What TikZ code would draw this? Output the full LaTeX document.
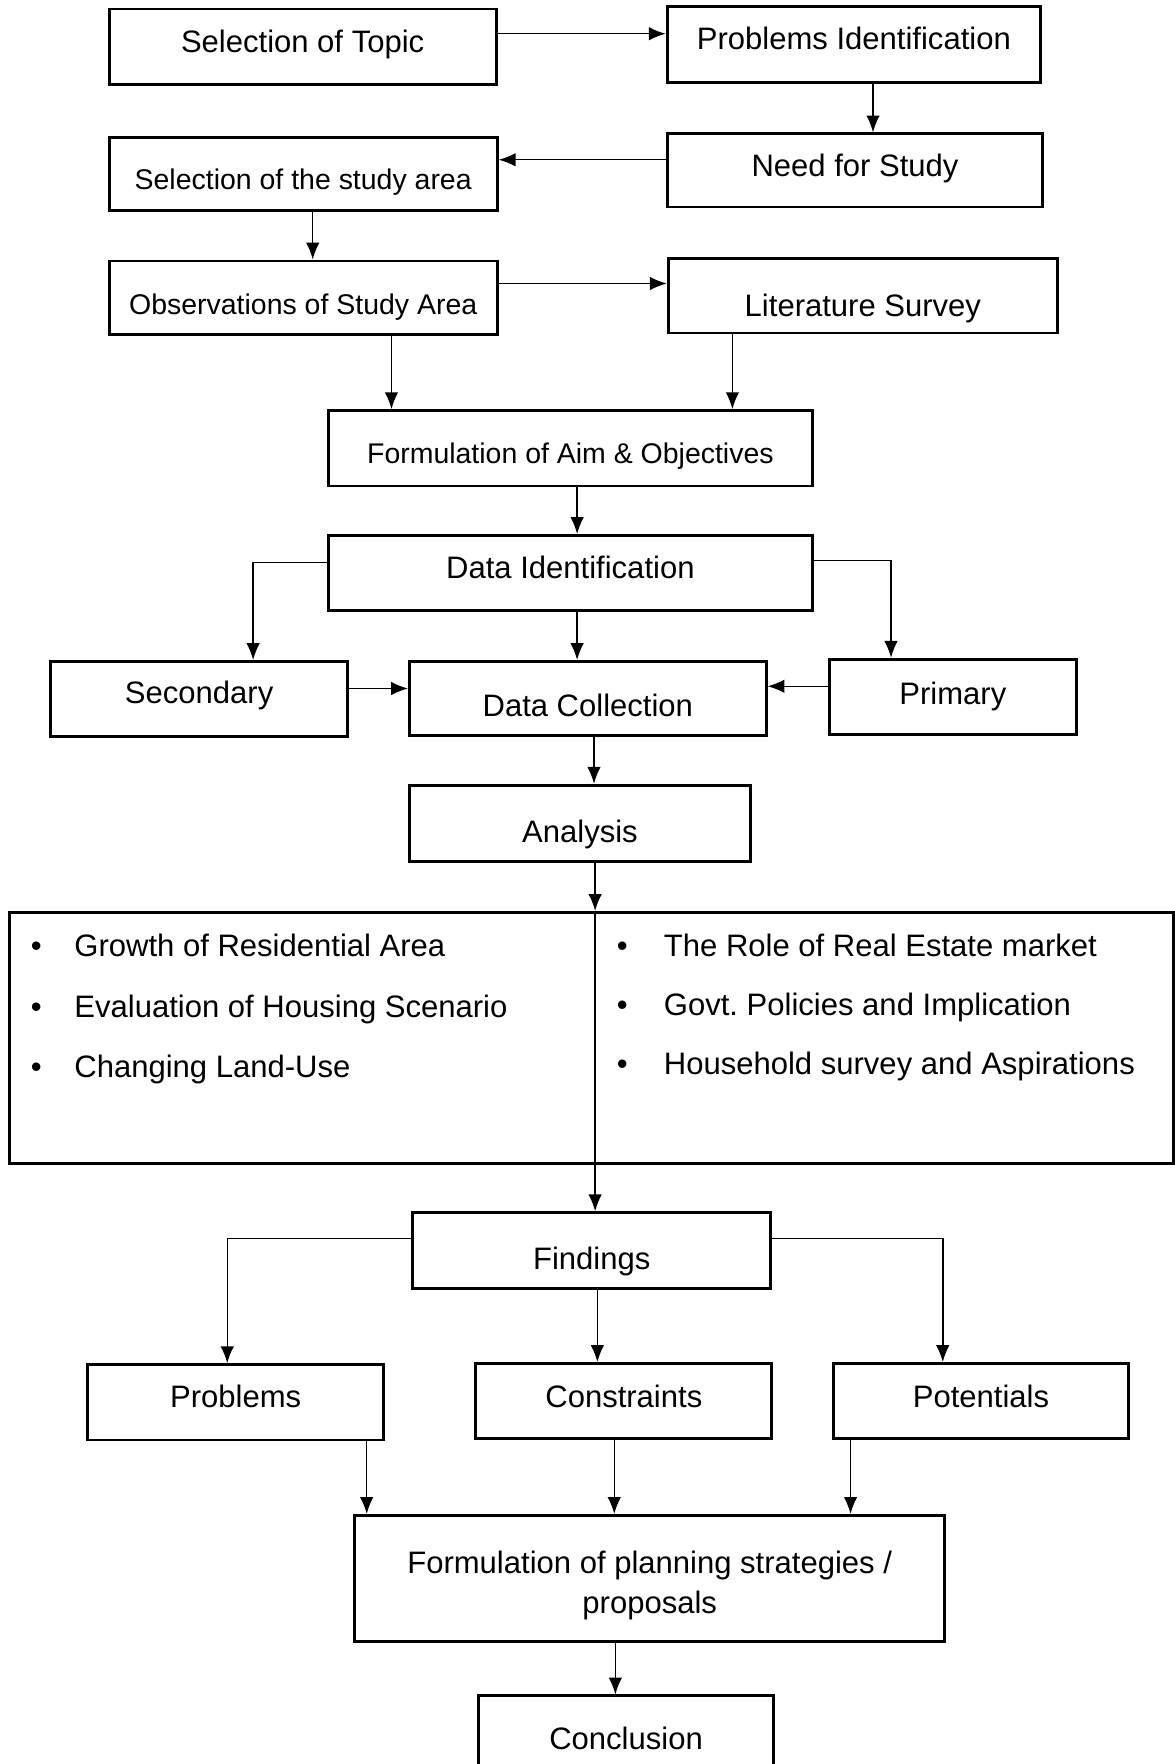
\documentclass[tikz,border=0pt]{standalone}
\usepackage{fontspec}
\setmainfont{Liberation Sans}
\usetikzlibrary{positioning,arrows.meta}

% move a label down inside its box without changing the box
\newcommand{\txtdown}[2]{\raisebox{-#1}[\height][\depth]{#2}}

\begin{document}
\begin{tikzpicture}[
    x=0.02cm, y=-0.02cm,
    box/.style={draw, line width=1.5pt, minimum height=1.34cm, align=center, inner sep=2pt, font=\fontsize{15.7}{20}\selectfont},
    smallbox/.style={box, font=\fontsize{14.4}{18}\selectfont},
    item/.style={anchor=base west, inner sep=0pt, font=\fontsize{15.7}{20}\selectfont},
    arrow/.style={->, >={Latex[length=3mm,width=2.4mm]}, line width=0.75pt}
]
\useasboundingbox (0,0) rectangle (1044,1568);

% study set-up
\node[box, minimum width=6.88cm] (topic) at (269,41.5) {\txtdown{-1.1pt}{Selection of Topic}};
\node[box, minimum width=6.64cm] (probid) at (759,39.5) {\txtdown{-2.8pt}{Problems Identification}};
\node[box, minimum width=6.68cm, minimum height=1.3cm] (need) at (760,151.5) {\txtdown{-1.1pt}{Need for Study}};
\node[smallbox, minimum width=6.9cm, minimum height=1.3cm] (studyarea) at (269.5,154.5) {\txtdown{4pt}{Selection of the study area}};
\node[smallbox, minimum width=6.9cm, minimum height=1.3cm] (observe) at (269.5,264.5) {\txtdown{5pt}{Observations of Study Area}};
\node[box, minimum width=6.92cm, minimum height=1.32cm] (litsurvey) at (767,263) {\txtdown{6.3pt}{Literature Survey}};
\node[smallbox, minimum width=8.6cm] (aim) at (507,398.5) {\txtdown{4pt}{Formulation of Aim \& Objectives}};

% data
\node[box, minimum width=8.6cm] (dataid) at (507,509.5) {\txtdown{-2.8pt}{Data Identification}};
\node[box, minimum width=5.28cm] (secondary) at (177,621.5) {\txtdown{-1.7pt}{Secondary}};
\node[box, minimum width=6.34cm, minimum height=1.32cm] (collect) at (522.5,621) {\txtdown{3.4pt}{Data Collection}};
\node[box, minimum width=4.4cm] (primary) at (847,619.5) {Primary};
\node[box, minimum width=6.06cm, minimum height=1.36cm] (analysis) at (515.5,732) {\txtdown{5.7pt}{Analysis}};

% analysis topics
\node[draw, line width=1.5pt, minimum width=20.7cm, minimum height=4.46cm] (issues) at (525.5,922.5) {};
\node[item] (growth) at (27,850) {\textbullet\hspace{16.6pt}Growth of Residential Area};
\node[item] (housing) at (27,904) {\textbullet\hspace{16.6pt}Evaluation of Housing Scenario};
\node[item] (landuse) at (27,958) {\textbullet\hspace{16.6pt}Changing Land-Use};
\node[item] (realestate) at (548,850) {\textbullet\hspace{18.3pt}The Role of Real Estate market};
\node[item] (policies) at (548,903) {\textbullet\hspace{18.3pt}Govt.\ Policies and Implication};
\node[item] (household) at (548,955) {\textbullet\hspace{18.3pt}Household survey and Aspirations};

% outcome
\node[box, minimum width=6.36cm] (findings) at (526,1111.5) {\txtdown{5.7pt}{Findings}};
\node[box, minimum width=5.26cm] (problems) at (209.5,1246.5) {\txtdown{-2.8pt}{Problems}};
\node[box, minimum width=5.26cm] (constraints) at (554.5,1245.5) {\txtdown{-2.3pt}{Constraints}};
\node[box, minimum width=5.24cm] (potentials) at (872,1245.5) {\txtdown{-2.3pt}{Potentials}};
\node[box, minimum width=10.5cm, minimum height=2.24cm] (strategies) at (577.5,1403) {\txtdown{3.7pt}{\begin{tabular}{@{}c@{}}Formulation of planning strategies /\\ proposals\end{tabular}}};
\node[box, minimum width=5.26cm] (conclusion) at (556.5,1541) {\txtdown{2.3pt}{Conclusion}};

% connectors
\draw[arrow] ([yshift=.23cm]topic.east) -- ([yshift=.23cm]topic.east -| probid.west);
\draw[arrow] ([xshift=.34cm]probid.south) -- ([xshift=.34cm]probid.south |- need.north);
\draw[arrow] ([yshift=.19cm]need.west) -- ([yshift=.19cm]need.west -| studyarea.east);
\draw[arrow] ([xshift=.17cm]studyarea.south) -- ([xshift=.17cm]studyarea.south |- observe.north);
\draw[arrow] ([yshift=.25cm]observe.east) -- ([yshift=.25cm]observe.east -| litsurvey.west);
\draw[arrow] ([xshift=1.57cm]observe.south) -- ([xshift=1.57cm]observe.south |- aim.north);
\draw[arrow] ([xshift=-2.32cm]litsurvey.south) -- ([xshift=-2.32cm]litsurvey.south |- aim.north);
\draw[arrow] ([xshift=.12cm]aim.south) -- ([xshift=.12cm]aim.south |- dataid.north);
\draw[arrow] ([yshift=.19cm]dataid.west) -| ([xshift=.96cm]secondary.north);
\draw[arrow] ([yshift=.23cm]dataid.east) -| ([xshift=-1.1cm]primary.north);
\draw[arrow] ([xshift=.12cm]dataid.south) -- ([xshift=.12cm]dataid.south |- collect.north);
\draw[arrow] ([yshift=.19cm]secondary.east) -- ([yshift=.19cm]secondary.east -| collect.west);
\draw[arrow] ([yshift=.19cm]primary.west) -- ([yshift=.19cm]primary.west -| collect.east);
\draw[arrow] ([xshift=.11cm]collect.south) -- ([xshift=.11cm]collect.south |- analysis.north);
\draw[arrow] ([xshift=.27cm]analysis.south) -- ([xshift=.27cm]analysis.south |- issues.north);
\draw[arrow] ([xshift=.27cm]analysis.south |- issues.north) -- ([xshift=.27cm]analysis.south |- findings.north);
\draw[arrow] ([yshift=.21cm]findings.west) -| ([xshift=-.15cm]problems.north);
\draw[arrow] ([xshift=.1cm]findings.south) -- ([xshift=.1cm]findings.south |- constraints.north);
\draw[arrow] ([yshift=.21cm]findings.east) -| ([xshift=-.68cm]potentials.north);
\draw[arrow] ([xshift=2.33cm]problems.south) -- ([xshift=2.33cm]problems.south |- strategies.north);
\draw[arrow] ([xshift=-.17cm]constraints.south) -- ([xshift=-.17cm]constraints.south |- strategies.north);
\draw[arrow] ([xshift=-2.32cm]potentials.south) -- ([xshift=-2.32cm]potentials.south |- strategies.north);
\draw[arrow] ([xshift=-.61cm]strategies.south) -- ([xshift=-.61cm]strategies.south |- conclusion.north);
\end{tikzpicture}
\end{document}
